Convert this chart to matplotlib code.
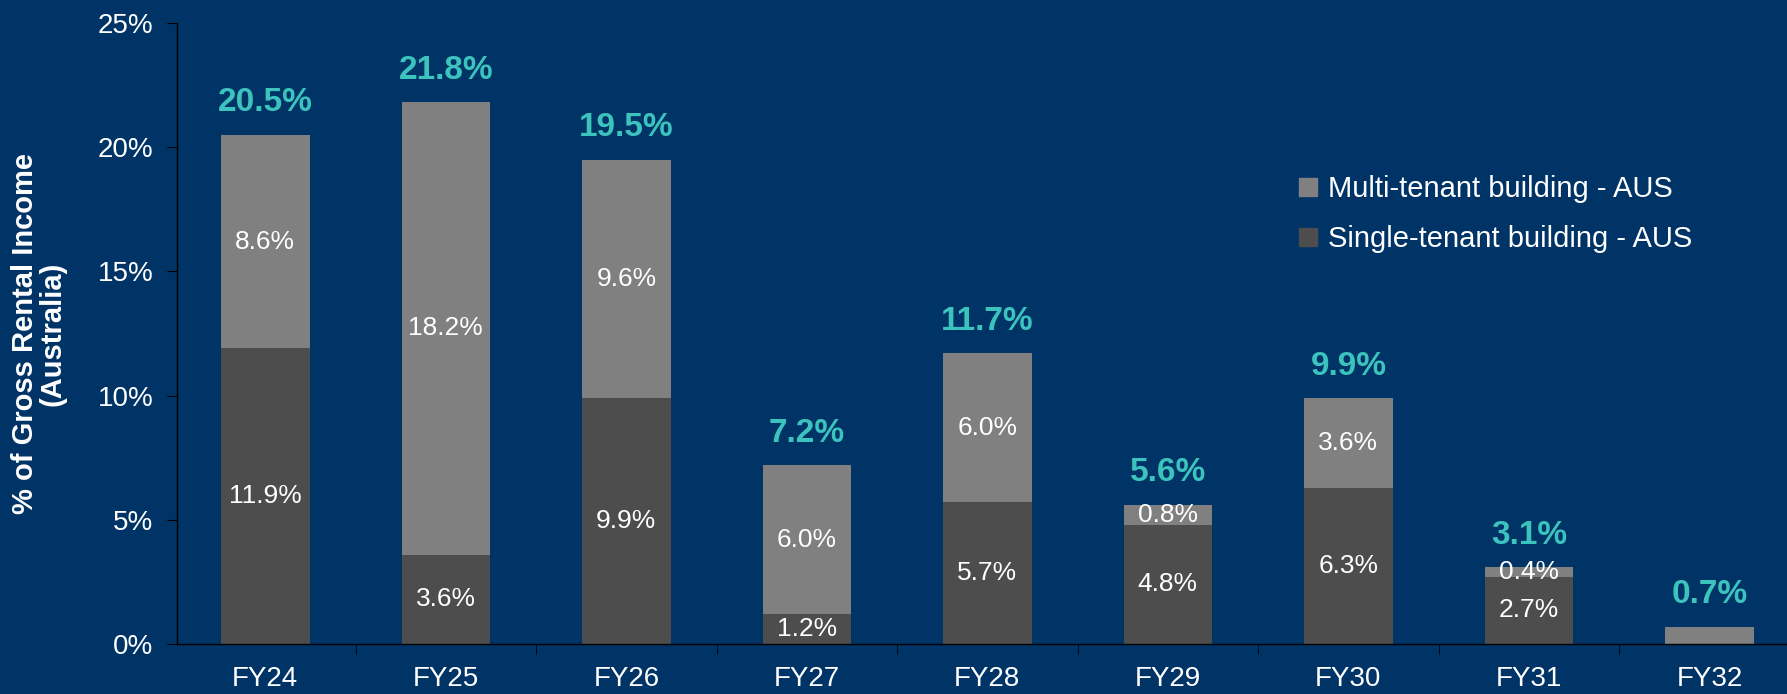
import matplotlib.pyplot as plt
import numpy as np
from matplotlib.patches import Patch

plt.rcParams['font.family'] = ['Liberation Sans', 'DejaVu Sans']

# Данные
years = ['FY24', 'FY25', 'FY26', 'FY27', 'FY28', 'FY29', 'FY30', 'FY31', 'FY32']
single = [11.9, 3.6, 9.9, 1.2, 5.7, 4.8, 6.3, 2.7, 0.0]
multi = [8.6, 18.2, 9.6, 6.0, 6.0, 0.8, 3.6, 0.4, 0.7]
totals = [20.5, 21.8, 19.5, 7.2, 11.7, 5.6, 9.9, 3.1, 0.7]

bg = '#003366'
c_multi = '#808080'
c_single = '#4d4d4d'
c_total = '#3cc3bd'

fig = plt.figure(figsize=(17.87, 6.94), dpi=100, facecolor=bg)
ax = fig.add_axes([0.099, 0.072, 0.901, 0.895])
ax.set_facecolor(bg)

x = np.arange(len(years))
w = 0.49
ax.bar(x, single, width=w, color=c_single)
ax.bar(x, multi, width=w, bottom=single, color=c_multi)

# Подписи внутри столбцов и итоги сверху
for i in range(len(years)):
    if single[i] > 0:
        ax.text(x[i], single[i] / 2, f'{single[i]:.1f}%', ha='center', va='center',
                color='white', fontsize=19)
        ax.text(x[i], single[i] + multi[i] / 2, f'{multi[i]:.1f}%', ha='center', va='center',
                color='white', fontsize=19)
    ax.annotate(f'{totals[i]:.1f}%', (x[i], single[i] + multi[i]), xytext=(0, 23),
                textcoords='offset points', ha='center', va='center',
                color=c_total, fontsize=24, fontweight='bold')

ax.set_xlim(-0.49, 8.43)
ax.set_ylim(0, 25)
ax.set_yticks(np.arange(0, 26, 5))
ax.set_yticklabels([f'{v}%' for v in range(0, 26, 5)])
ax.set_xticks(x)
ax.set_xticklabels(years)
ax.set_xticks(x[:-1] + 0.5, minor=True)
ax.tick_params(axis='x', which='major', length=0, pad=16, colors='white', labelsize=20)
ax.tick_params(axis='x', which='minor', length=7, color='black', direction='out')
ax.tick_params(axis='y', length=7, color='black', labelcolor='white', labelsize=20, pad=10)

for s in ['top', 'right']:
    ax.spines[s].set_visible(False)
for s in ['left', 'bottom']:
    ax.spines[s].set_color('black')
    ax.spines[s].set_linewidth(1)

ax.set_ylabel('% of Gross Rental Income\n(Australia)', color='white', fontsize=21,
              fontweight='bold', labelpad=22, linespacing=1.0)

handles = [Patch(color=c_multi, label='Multi-tenant building - AUS'),
           Patch(color=c_single, label='Single-tenant building - AUS')]
leg = ax.legend(handles=handles, loc='center left', bbox_to_anchor=(0.697, 0.692),
                frameon=False, fontsize=21, labelcolor='white', handlelength=0.6,
                handleheight=0.6, handletextpad=0.4, labelspacing=0.75,
                borderpad=0, borderaxespad=0)

fig.savefig('out.png', dpi=100, facecolor=bg)
